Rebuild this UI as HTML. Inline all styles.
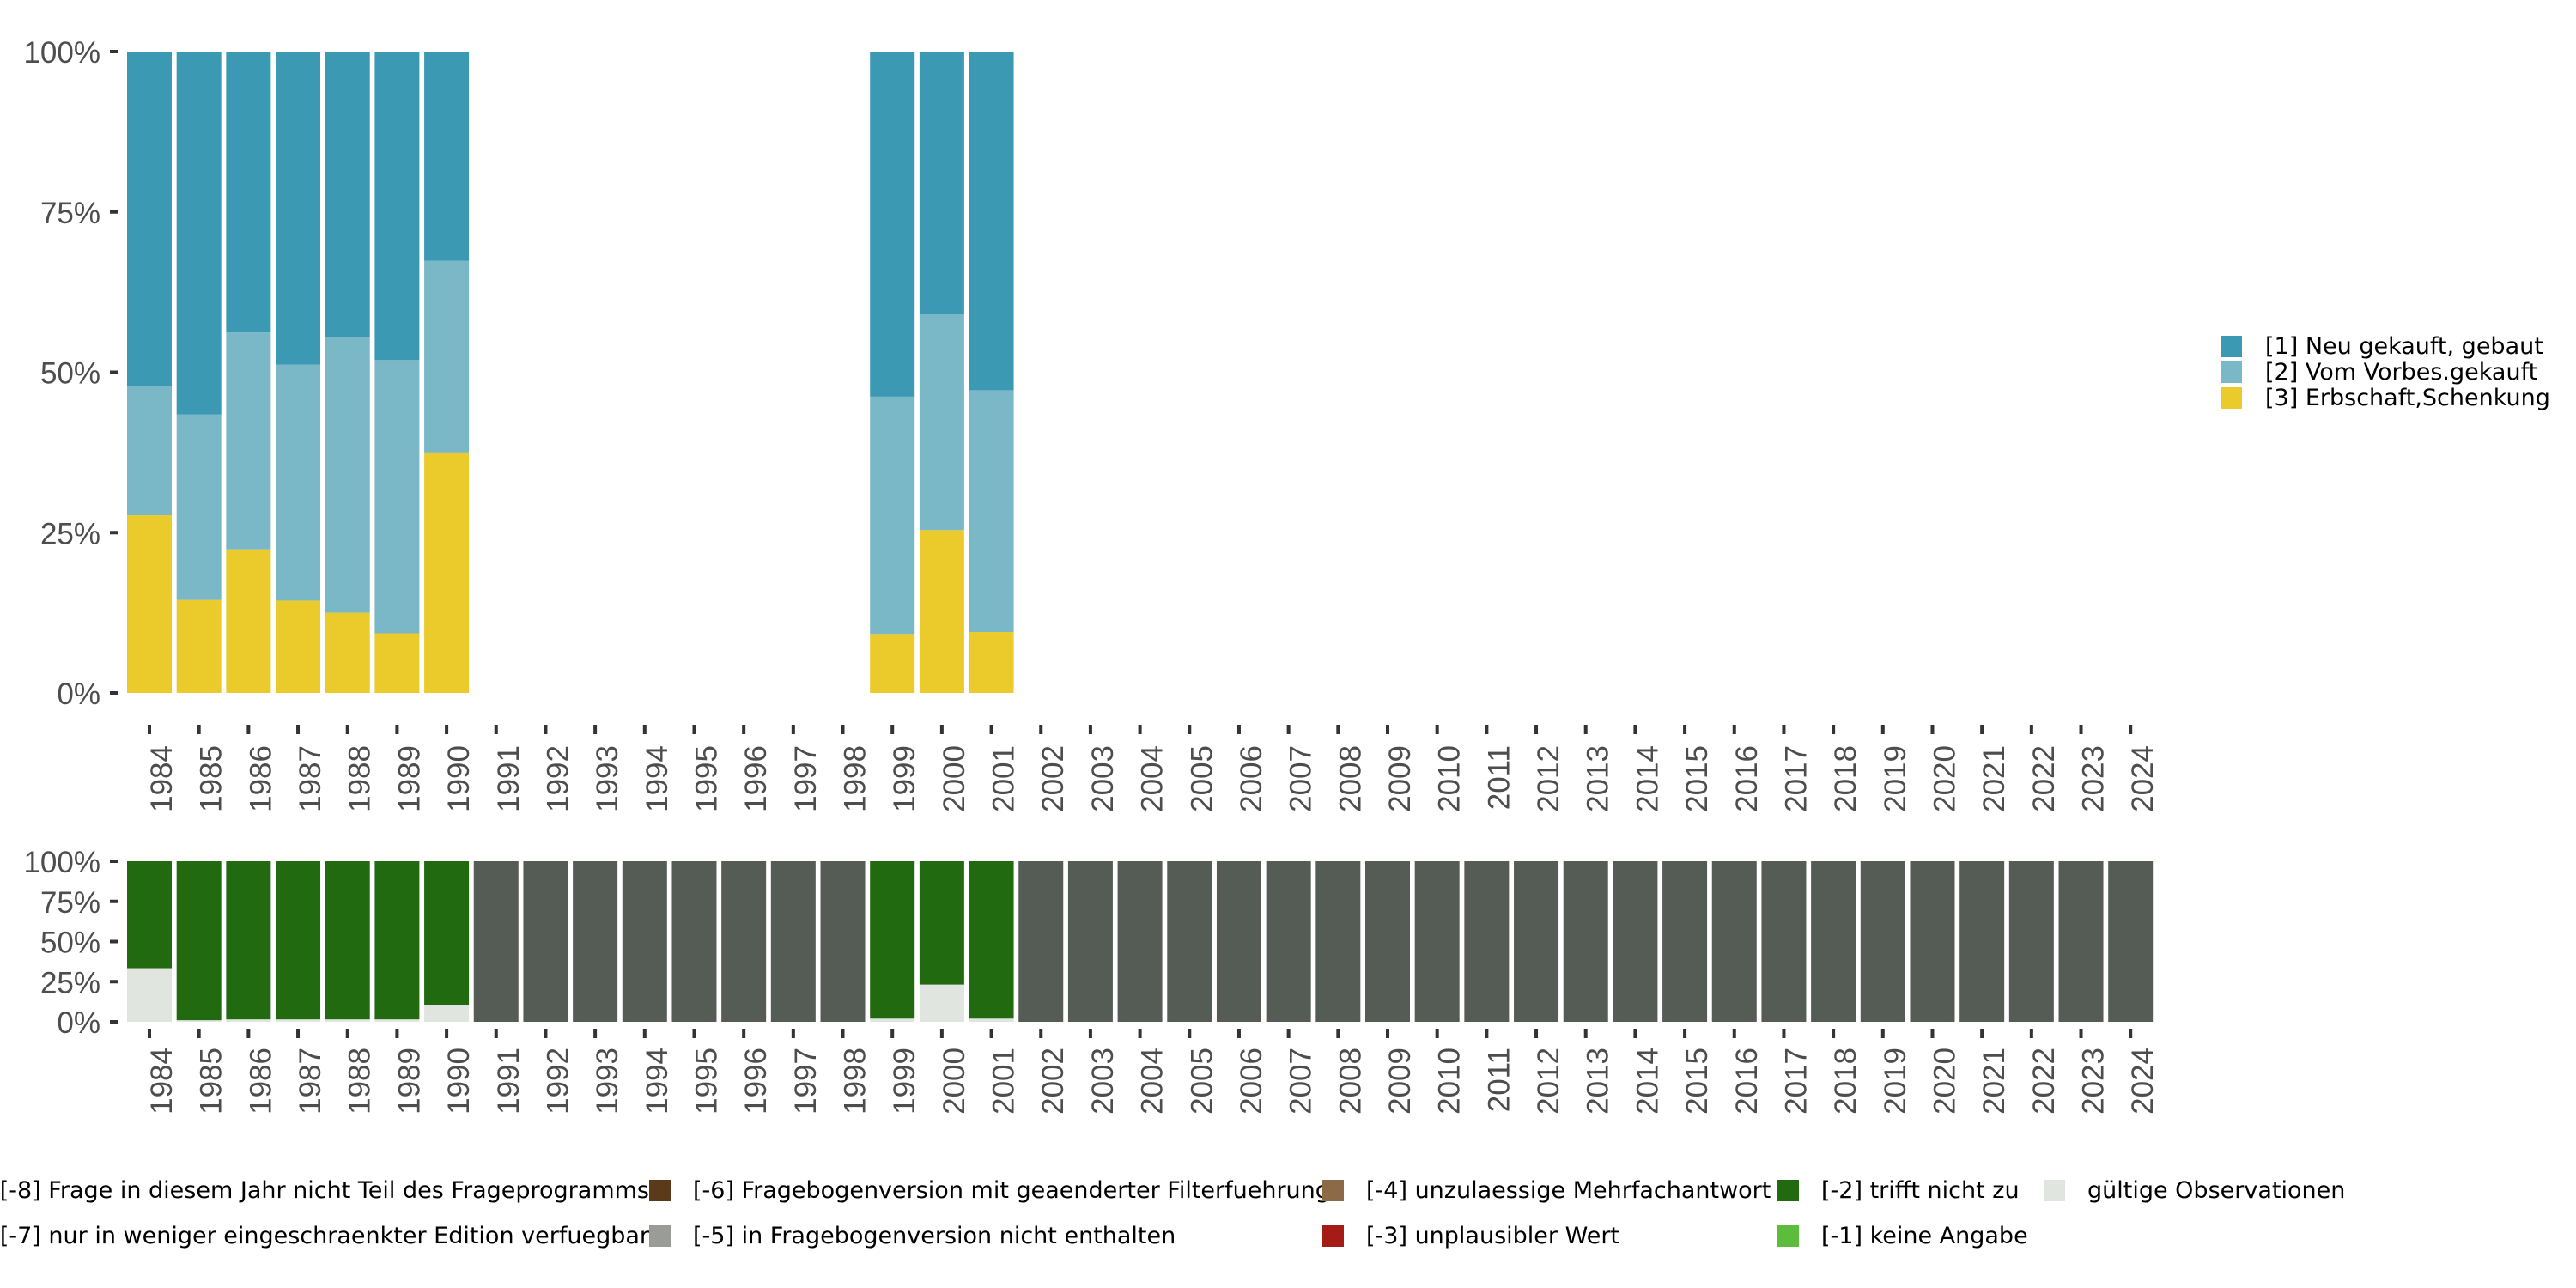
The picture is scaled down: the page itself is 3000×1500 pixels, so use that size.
<!DOCTYPE html>
<html><head><meta charset="utf-8"><title>Stacked year shares</title>
<style>
html,body{margin:0;padding:0;background:#fff;}
svg{display:block;font-family:"Liberation Sans","DejaVu Sans",sans-serif;}
.lg{font-family:"DejaVu Sans","Liberation Sans",sans-serif;}
</style></head>
<body>
<svg id="chart" width="3000" height="1500" viewBox="0 0 3000 1500" xmlns="http://www.w3.org/2000/svg">
<g id="top"></g>
<g id="bottom"></g>
<g id="legend-right" class="lg"></g>
<g id="legend-bottom" class="lg"></g>
</svg>
<script>
const years = [];
for (let y = 1984; y <= 2024; y++) years.push(String(y));
const topYears = ["1984","1985","1986","1987","1988","1989","1990","1999","2000","2001"];
const shareErbschaft = [27.7,14.5,22.4,14.4,12.5,9.3,37.5,9.2,25.4,9.5];
const shareVorbes    = [20.2,28.9,33.8,36.8,43.0,42.6,29.9,37.0,33.6,37.7];
const shareNeu       = [52.1,56.6,43.8,48.8,44.5,48.1,32.6,53.8,41.0,52.8];
const topTicks = [0,25,50,75,100];
const topTickLabels = ["0%","25%","50%","75%","100%"];
const validYears = ["1984","1985","1986","1987","1988","1989","1990","1999","2000","2001"];
const shareValid = [33.4,1.0,1.5,1.5,1.5,1.5,10.4,2.0,23.2,2.0];
const shareNichtZu = [66.6,99.0,98.5,98.5,98.5,98.5,89.6,98.0,76.8,98.0];

const NS = "http://www.w3.org/2000/svg";
function mk(tag, attrs, parent){
  const e = document.createElementNS(NS, tag);
  for (const k in attrs) e.setAttribute(k, attrs[k]);
  parent.appendChild(e);
  return e;
}
const x0 = 148, pitch = 57.68, bw = 52;
function xPos(year){ return x0 + years.indexOf(year) * pitch; }
function yTop(v){ return 807 - v / 100 * 747; }
function yBot(v){ return 1190 - v / 100 * 187; }

const C1 = "#3c99b4", C2 = "#7ab7c7", C3 = "#ebcb2c";
const gTop = document.getElementById("top");
const gBot = document.getElementById("bottom");

topYears.forEach((yr, i) => {
  const x = xPos(yr);
  const segs = [[shareErbschaft[i], C3, "erbschaft"], [shareVorbes[i], C2, "vorbes"], [shareNeu[i], C1, "neu"]];
  let cum = 0;
  segs.forEach(s => {
    const r = mk("rect", {x: x, y: yTop(cum + s[0]), width: bw, height: yTop(cum) - yTop(cum + s[0]), fill: s[1]}, gTop);
    
    
    cum += s[0];
  });
});

function yAxis(g, fy, name){
  topTicks.forEach((t, i) => {
    const y = fy(t);
    const tk = mk("rect", {x: 128, y: y - 2, width: 10, height: 4, fill: "#333"}, g);
    
    
    const tx = mk("text", {x: 117, y: y + 13, "text-anchor": "end", "font-size": 35, fill: "#4d4d4d"}, g);
    tx.textContent = topTickLabels[i];
    
    
  });
}
yAxis(gTop, yTop, "top-y-tick");
yAxis(gBot, yBot, "bottom-y-tick");

function xAxis(g, tickY, labY, name){
  years.forEach(yr => {
    const cx = xPos(yr) + bw / 2;
    const tk = mk("rect", {x: cx - 2, y: tickY, width: 4, height: 11, fill: "#333"}, g);
    
    
    const tx = mk("text", {x: 0, y: 0, "text-anchor": "end", "font-size": 35, fill: "#4d4d4d",
      transform: "translate(" + (cx + 26) + "," + labY + ") rotate(-90)"}, g);
    tx.textContent = yr;
    
    
  });
}
xAxis(gTop, 844, 868, "top-x-tick");
xAxis(gBot, 1198, 1220, "bottom-x-tick");

years.forEach(yr => {
  const x = xPos(yr);
  const i = validYears.indexOf(yr);
  if (i < 0) {
    const r = mk("rect", {x: x, y: yBot(100), width: bw, height: yBot(0) - yBot(100), fill: "#555b55"}, gBot);
    
    
  } else {
    const r1 = mk("rect", {x: x, y: yBot(shareValid[i]), width: bw, height: yBot(0) - yBot(shareValid[i]), fill: "#e1e5e0"}, gBot);
    
    
    const top = shareValid[i] + shareNichtZu[i];
    const r2 = mk("rect", {x: x, y: yBot(top), width: bw, height: yBot(shareValid[i]) - yBot(top), fill: "#226a10"}, gBot);
    
    
  }
});

const lr = document.getElementById("legend-right");
[["[1] Neu gekauft, gebaut", C1], ["[2] Vom Vorbes.gekauft", C2], ["[3] Erbschaft,Schenkung", C3]].forEach((e, i) => {
  const y = 391 + i * 30;
  const s = mk("rect", {x: 2587, y: y, width: 24, height: 25, fill: e[1]}, lr);
  
  
  const t = mk("text", {x: 2638, y: y + 21, "font-size": 27, fill: "#000"}, lr);
  t.textContent = e[0];
  
  
});

const lb = document.getElementById("legend-bottom");
const bl = [
  [-100, 1374, "#555b55", "[-8] Frage in diesem Jahr nicht Teil des Frageprogramms", true],
  [-100, 1427, "#999b96", "[-7] nur in weniger eingeschraenkter Edition verfuegbar", true],
  [756, 1374, "#5b3a1a", "[-6] Fragebogenversion mit geaenderter Filterfuehrung", false],
  [756, 1427, "#9a9c98", "[-5] in Fragebogenversion nicht enthalten", false],
  [1540, 1374, "#8c6a48", "[-4] unzulaessige Mehrfachantwort", false],
  [1540, 1427, "#a51c17", "[-3] unplausibler Wert", false],
  [2070, 1374, "#226a10", "[-2] trifft nicht zu", false],
  [2070, 1427, "#5cbd3c", "[-1] keine Angabe", false],
  [2380, 1374, "#e1e5e0", "gültige Observationen", false]
];
bl.forEach(e => {
  const s = mk("rect", {x: e[0], y: e[1], width: 25, height: 25, fill: e[2]}, lb);
  
  
  const attrs = e[4] ? {x: 756, y: e[1] + 21, "font-size": 27, fill: "#000", "text-anchor": "end"}
                     : {x: e[0] + 51, y: e[1] + 21, "font-size": 27, fill: "#000"};
  const t = mk("text", attrs, lb);
  t.textContent = e[3];
  
  
});
</script>
</body></html>
